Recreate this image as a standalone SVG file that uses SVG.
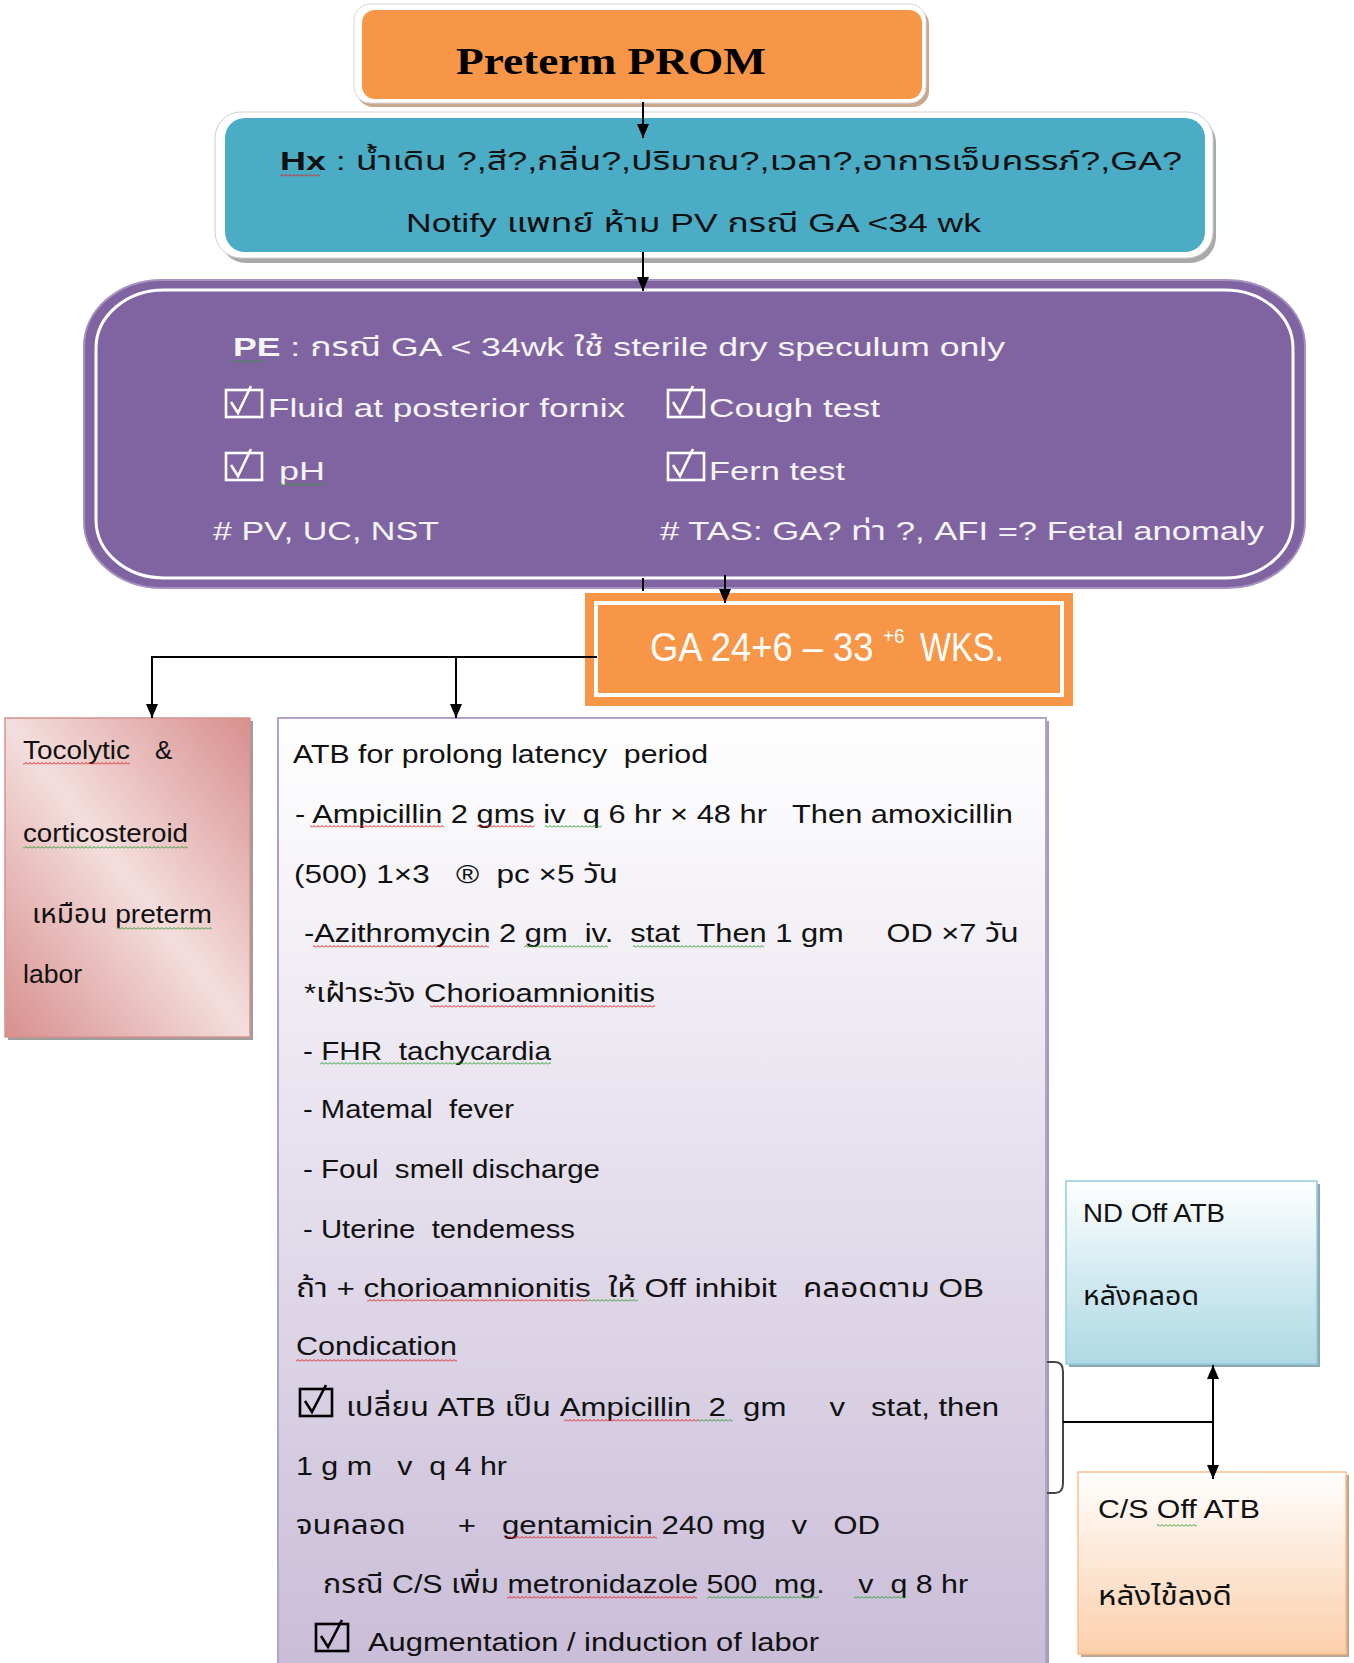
<svg xmlns="http://www.w3.org/2000/svg" width="1354" height="1663" viewBox="0 0 1354 1663" xml:space="preserve">
  <style>
    .t { font-family: "Liberation Sans", "Noto Sans Thai", "DejaVu Sans", sans-serif; font-size: 26px; fill: #111; white-space: pre; }
    .w { fill: #f4f4f4; }
    .b { font-weight: bold; }
    .con { stroke: #000; stroke-width: 2; fill: none; }
    .chk { fill: none; stroke-width: 2.6; stroke-linejoin: miter; }
    .ga { font-family: "Liberation Sans", sans-serif; fill: #ffffff; }
  </style>
  <defs>
    <marker id="arr" markerUnits="userSpaceOnUse" markerWidth="14" markerHeight="12" viewBox="0 0 14 12" refX="14" refY="6" orient="auto-start-reverse">
      <path d="M0,0 L14,6 L0,12 z" fill="#000"/>
    </marker>
    <linearGradient id="gPink" x1="1" y1="0" x2="0" y2="1">
      <stop offset="0" stop-color="#d88f8d"/>
      <stop offset="0.5" stop-color="#f3dedd"/>
      <stop offset="1" stop-color="#d88f8d"/>
    </linearGradient>
    <linearGradient id="gLav" x1="0" y1="0" x2="0" y2="1">
      <stop offset="0" stop-color="#ffffff"/>
      <stop offset="1" stop-color="#c9bcd8"/>
    </linearGradient>
    <linearGradient id="gBlue" x1="0" y1="0" x2="0" y2="1">
      <stop offset="0" stop-color="#ffffff"/>
      <stop offset="0.55" stop-color="#cfe9f0"/>
      <stop offset="1" stop-color="#afd9e4"/>
    </linearGradient>
    <linearGradient id="gPeach" x1="0" y1="0" x2="0" y2="1">
      <stop offset="0" stop-color="#ffffff"/>
      <stop offset="1" stop-color="#fbcfab"/>
    </linearGradient>
    <pattern id="wavyRed" patternUnits="userSpaceOnUse" width="4" height="3">
      <path d="M0,2.5 L2,0.5 L4,2.5" stroke="#e0201c" stroke-width="1" fill="none"/>
    </pattern>
    <pattern id="wavyGreen" patternUnits="userSpaceOnUse" width="4" height="3">
      <path d="M0,2.5 L2,0.5 L4,2.5" stroke="#2e9a2e" stroke-width="1" fill="none"/>
    </pattern>
  </defs>

  <rect width="1354" height="1663" fill="#ffffff"/>

  <!-- Preterm PROM -->
  <g id="preterm">
    <rect x="357" y="8" width="572" height="99" rx="16" fill="#c9a88e"/>
    <rect x="354" y="4" width="572" height="99" rx="16" fill="#ffffff" stroke="#d8d8d8" stroke-width="1"/>
    <rect x="362" y="10" width="560" height="89" rx="13" fill="#f79646"/>
    <text x="456" y="74" textLength="310" lengthAdjust="spacingAndGlyphs" font-family="'Liberation Serif', serif" font-weight="bold" font-size="38" fill="#000">Preterm PROM</text>
  </g>

  <!-- History -->
  <g id="history">
    <rect x="220" y="117" width="996" height="146" rx="26" fill="#a9a9a9"/>
    <rect x="215" y="112" width="998" height="146" rx="26" fill="#ffffff" stroke="#d0d0d0" stroke-width="1"/>
    <rect x="225" y="118" width="980" height="134" rx="20" fill="#4bacc6"/>
    <text class="t" x="280" y="170" textLength="902" lengthAdjust="spacingAndGlyphs"><tspan class="b">Hx</tspan> : น้ำเดิน ?,สี?,กลิ่น?,ปริมาณ?,เวลา?,อาการเจ็บครรภ์?,GA?</text>
    <rect x="280" y="174" width="40" height="3" fill="url(#wavyRed)"/>
    <text class="t" x="406" y="232" textLength="575" lengthAdjust="spacingAndGlyphs">Notify แพทย์ ห้าม PV กรณี GA &lt;34 wk</text>
  </g>

  <!-- Physical exam -->
  <g id="exam">
    <rect x="84" y="280" width="1221" height="308" rx="78" ry="66" fill="#8064a2" stroke="#a692c0" stroke-width="2"/>
    <rect x="96" y="290" width="1197" height="288" rx="68" ry="58" fill="none" stroke="#ffffff" stroke-width="3"/>
    <text class="t w" x="233" y="356" textLength="772" lengthAdjust="spacingAndGlyphs"><tspan class="b">PE</tspan> : กรณี GA &lt; 34wk ใช้ sterile dry speculum only</text>
    <rect x="233" y="360" width="30" height="3" fill="url(#wavyGreen)"/>
    <rect class="chk" x="226" y="390" width="36" height="27" stroke="#ffffff"/>
    <path class="chk" d="M231,402 L238,413 L251,386" stroke="#ffffff"/>
    <text class="t w" x="268" y="417" textLength="357" lengthAdjust="spacingAndGlyphs">Fluid at posterior fornix</text>
    <rect class="chk" x="668" y="390" width="36" height="27" stroke="#ffffff"/>
    <path class="chk" d="M673,402 L680,413 L693,386" stroke="#ffffff"/>
    <text class="t w" x="709" y="417" textLength="171" lengthAdjust="spacingAndGlyphs">Cough test</text>
    <rect class="chk" x="226" y="453" width="36" height="27" stroke="#ffffff"/>
    <path class="chk" d="M231,465 L238,476 L251,449" stroke="#ffffff"/>
    <text class="t w" x="279" y="480" textLength="46" lengthAdjust="spacingAndGlyphs">pH</text>
    <rect x="279" y="483" width="46" height="3" fill="url(#wavyGreen)"/>
    <rect class="chk" x="668" y="453" width="36" height="27" stroke="#ffffff"/>
    <path class="chk" d="M673,465 L680,476 L693,449" stroke="#ffffff"/>
    <text class="t w" x="709" y="480" textLength="136" lengthAdjust="spacingAndGlyphs">Fern test</text>
    <text class="t w" x="213" y="540" textLength="226" lengthAdjust="spacingAndGlyphs"># PV, UC, NST</text>
    <text class="t w" x="660" y="540" textLength="604" lengthAdjust="spacingAndGlyphs"># TAS: GA? ท่า ?, AFI =? Fetal anomaly</text>
  </g>

  <!-- Gestational age: condensed white lettering -->
  <g id="ga">
    <rect x="585" y="593" width="488" height="113" fill="#f79646"/>
    <rect x="596" y="603" width="466" height="92" fill="none" stroke="#ffffff" stroke-width="4"/>
    <text class="ga" transform="translate(650,661) scale(0.91,1)" font-size="40">GA 24+6 – 33</text>
    <text class="ga" transform="translate(883,643) scale(0.9,1)" font-size="21">+6</text>
    <text class="ga" transform="translate(920,661) scale(0.82,1)" font-size="40">WKS.</text>
  </g>

  <!-- Tocolytic -->
  <g id="tocolytic">
    <rect x="8" y="721" width="245" height="319" fill="#9d9d9d"/>
    <rect x="5" y="718" width="245" height="319" fill="url(#gPink)" stroke="#d49390" stroke-width="1.5"/>
    <text class="t" x="23" y="759" textLength="107" lengthAdjust="spacingAndGlyphs">Tocolytic</text>
    <text class="t" x="155" y="759">&amp;</text>
    <rect x="23" y="762" width="107" height="3" fill="url(#wavyRed)"/>
    <text class="t" x="23" y="842" textLength="165" lengthAdjust="spacingAndGlyphs">corticosteroid</text>
    <rect x="23" y="846" width="165" height="3" fill="url(#wavyGreen)"/>
    <text class="t" x="32" y="923" textLength="180" lengthAdjust="spacingAndGlyphs">เหมือน preterm</text>
    <rect x="117" y="927" width="95" height="3" fill="url(#wavyGreen)"/>
    <text class="t" x="23" y="983" textLength="59" lengthAdjust="spacingAndGlyphs">labor</text>
  </g>

  <!-- Antibiotics -->
  <g id="antibiotics">
    <rect x="281" y="721" width="768" height="960" fill="#a898be"/>
    <rect x="278" y="718" width="768" height="960" fill="url(#gLav)" stroke="#b3a2c7" stroke-width="2"/>
    <text class="t" x="293" y="763" textLength="415" lengthAdjust="spacingAndGlyphs">ATB for prolong latency  period</text>
    <text class="t" x="295" y="823" textLength="718" lengthAdjust="spacingAndGlyphs">- Ampicillin 2 gms iv  q 6 hr × 48 hr   Then amoxicillin</text>
    <rect x="310" y="825" width="134" height="3" fill="url(#wavyRed)"/>
    <rect x="477" y="825" width="57" height="3" fill="url(#wavyRed)"/>
    <rect x="545" y="825" width="57" height="3" fill="url(#wavyGreen)"/>
    <text class="t" x="294" y="883" textLength="324" lengthAdjust="spacingAndGlyphs">(500) 1×3   ®  pc ×5 วัน</text>
    <text class="t" x="304" y="942" textLength="715" lengthAdjust="spacingAndGlyphs">-Azithromycin 2 gm  iv.  stat  Then 1 gm     OD ×7 วัน</text>
    <rect x="313" y="945" width="176" height="3" fill="url(#wavyRed)"/>
    <rect x="524" y="945" width="84" height="3" fill="url(#wavyGreen)"/>
    <rect x="633" y="945" width="131" height="3" fill="url(#wavyGreen)"/>
    <text class="t" x="304" y="1002" textLength="351" lengthAdjust="spacingAndGlyphs">*เฝ้าระวัง Chorioamnionitis</text>
    <rect x="430" y="1005" width="225" height="3" fill="url(#wavyRed)"/>
    <text class="t" x="303" y="1060" textLength="248" lengthAdjust="spacingAndGlyphs">- FHR  tachycardia</text>
    <rect x="320" y="1062" width="231" height="3" fill="url(#wavyGreen)"/>
    <text class="t" x="303" y="1118" textLength="211" lengthAdjust="spacingAndGlyphs">- Matemal  fever</text>
    <text class="t" x="303" y="1178" textLength="297" lengthAdjust="spacingAndGlyphs">- Foul  smell discharge</text>
    <text class="t" x="303" y="1238" textLength="272" lengthAdjust="spacingAndGlyphs">- Uterine  tendemess</text>
    <text class="t" x="296" y="1297" textLength="688" lengthAdjust="spacingAndGlyphs">ถ้า + chorioamnionitis  ให้ Off inhibit   คลอดตาม OB</text>
    <rect x="367" y="1299" width="220" height="3" fill="url(#wavyRed)"/>
    <rect x="587" y="1299" width="51" height="3" fill="url(#wavyGreen)"/>
    <text class="t" x="296" y="1355" textLength="161" lengthAdjust="spacingAndGlyphs">Condication</text>
    <rect x="296" y="1359" width="161" height="3" fill="url(#wavyRed)"/>
    <rect class="chk" x="300" y="1389" width="32" height="27" stroke="#000"/>
    <path class="chk" d="M305,1401 L312,1412 L326,1385" stroke="#000"/>
    <text class="t" x="346" y="1416" textLength="653" lengthAdjust="spacingAndGlyphs">เปลี่ยน ATB เป็น Ampicillin  2  gm     v   stat, then</text>
    <rect x="564" y="1419" width="134" height="3" fill="url(#wavyRed)"/>
    <rect x="698" y="1419" width="35" height="3" fill="url(#wavyGreen)"/>
    <text class="t" x="296" y="1475" textLength="211" lengthAdjust="spacingAndGlyphs">1 g m   v  q 4 hr</text>
    <text class="t" x="296" y="1534" textLength="584" lengthAdjust="spacingAndGlyphs">จนคลอด      +   gentamicin 240 mg   v   OD</text>
    <rect x="507" y="1536" width="150" height="3" fill="url(#wavyRed)"/>
    <text class="t" x="323" y="1593" textLength="645" lengthAdjust="spacingAndGlyphs">กรณี C/S เพิ่ม metronidazole 500  mg.    v  q 8 hr</text>
    <rect x="507" y="1596" width="190" height="3" fill="url(#wavyRed)"/>
    <rect x="707" y="1596" width="112" height="3" fill="url(#wavyGreen)"/>
    <rect x="854" y="1596" width="52" height="3" fill="url(#wavyGreen)"/>
    <rect class="chk" x="316" y="1624" width="32" height="27" stroke="#000"/>
    <path class="chk" d="M321,1636 L328,1647 L342,1620" stroke="#000"/>
    <text class="t" x="368" y="1651" textLength="451" lengthAdjust="spacingAndGlyphs">Augmentation / induction of labor</text>
  </g>

  <!-- Normal delivery -->
  <g id="nd">
    <rect x="1069" y="1184" width="251" height="183" fill="#8fa9b0"/>
    <rect x="1066" y="1181" width="251" height="183" fill="url(#gBlue)" stroke="#93cddd" stroke-width="1.5"/>
    <text class="t" x="1083" y="1222" font-size="24" textLength="142" lengthAdjust="spacingAndGlyphs">ND Off ATB</text>
    <text class="t" x="1083" y="1305" font-size="24" textLength="116" lengthAdjust="spacingAndGlyphs">หลังคลอด</text>
  </g>

  <!-- Caesarean section -->
  <g id="cs">
    <rect x="1081" y="1475" width="268" height="182" fill="#c2a58e"/>
    <rect x="1078" y="1472" width="268" height="182" fill="url(#gPeach)" stroke="#fac090" stroke-width="1.5"/>
    <text class="t" x="1098" y="1518" font-size="26" textLength="162" lengthAdjust="spacingAndGlyphs">C/S Off ATB</text>
    <rect x="1157" y="1524" width="40" height="3" fill="url(#wavyGreen)"/>
    <text class="t" x="1098" y="1605" font-size="26" textLength="134" lengthAdjust="spacingAndGlyphs">หลังไข้ลงดี</text>
  </g>

  <!-- connectors, drawn over the boxes -->
  <g id="connectors">
    <line class="con" x1="643" y1="102" x2="643" y2="138" marker-end="url(#arr)"/>
    <line class="con" x1="643" y1="252" x2="643" y2="291" marker-end="url(#arr)"/>
    <line class="con" x1="643" y1="578" x2="643" y2="591"/>
    <line class="con" x1="725" y1="575" x2="725" y2="603" marker-end="url(#arr)"/>
    <polyline class="con" points="597,657 152,657 152,718" marker-end="url(#arr)"/>
    <line class="con" x1="456" y1="657" x2="456" y2="718" marker-end="url(#arr)"/>
    <path d="M1047,1362 L1055,1362 Q1063,1362 1063,1372 L1063,1483 Q1063,1493 1055,1493 L1047,1493" stroke="#444" stroke-width="2" fill="none"/>
    <line class="con" x1="1063" y1="1422" x2="1213" y2="1422"/>
    <line class="con" x1="1213" y1="1365" x2="1213" y2="1479" marker-start="url(#arr)" marker-end="url(#arr)"/>
  </g>
</svg>
